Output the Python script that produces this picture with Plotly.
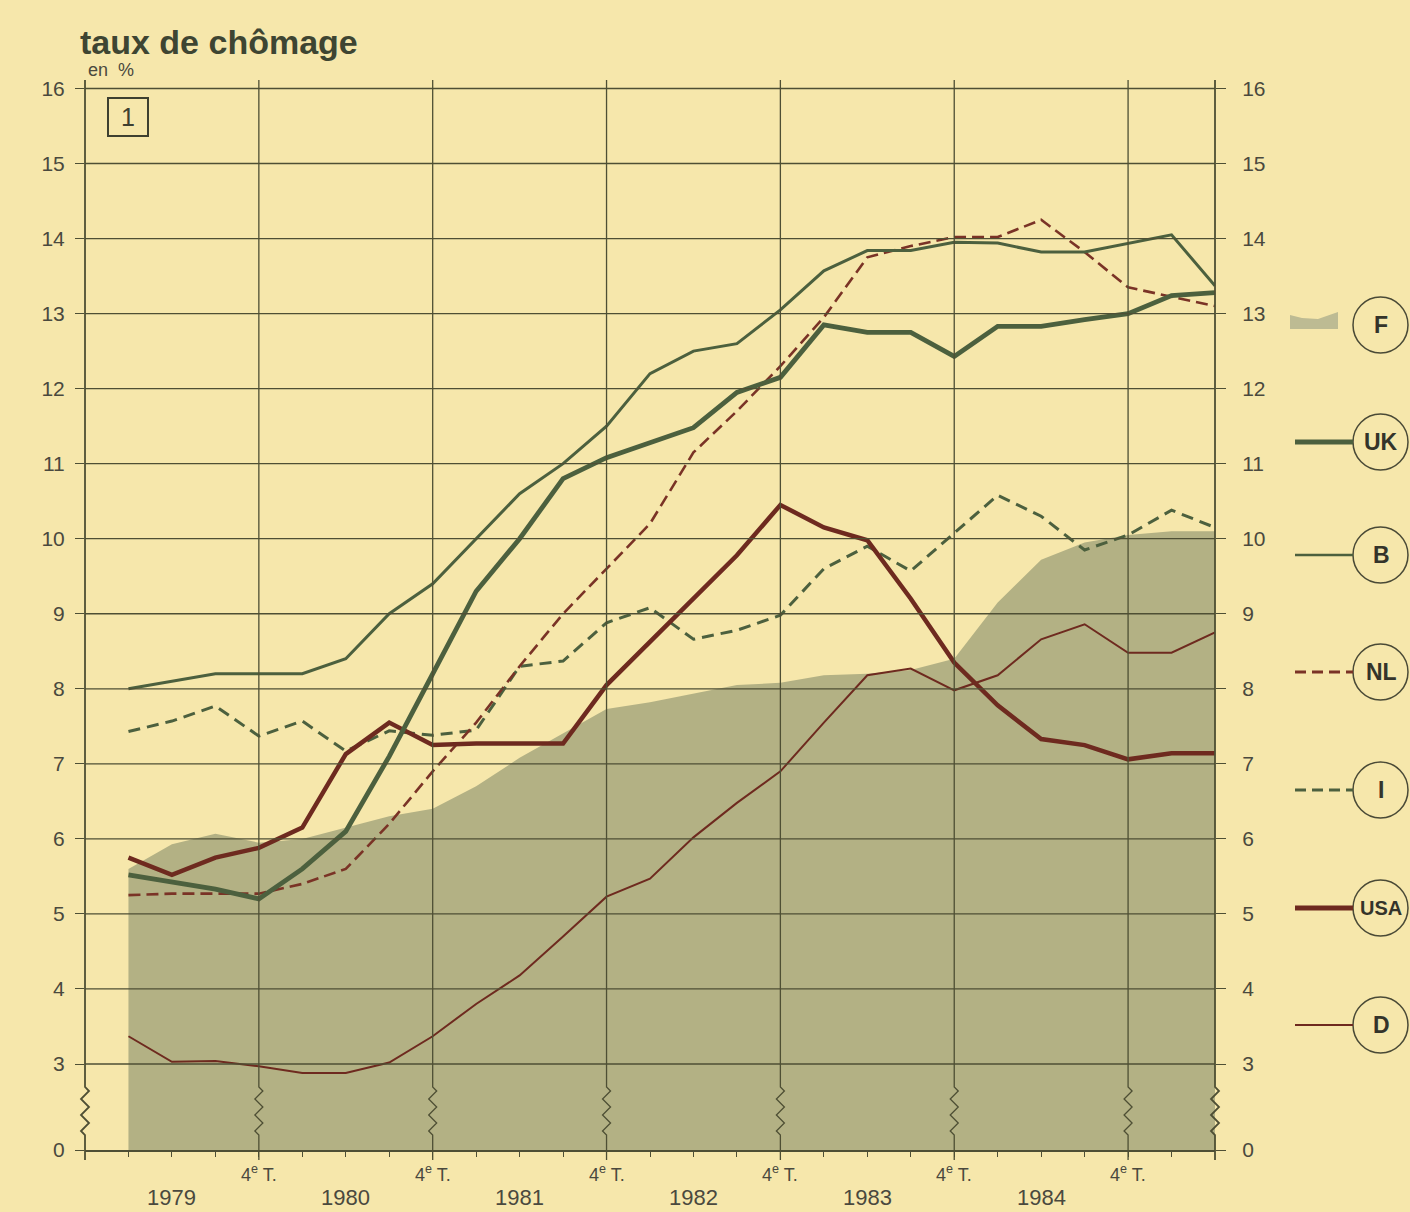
import plotly.graph_objects as go

# ---------------- data (quarterly, 1979 T1 .. 1985 T2) ----------------
quarters = list(range(26))  # 0 = 1979 T1
years = ["1979", "1980", "1981", "1982", "1983", "1984"]
year_pos = [1, 5, 9, 13, 17, 21]
q4_pos = [3, 7, 11, 15, 19, 23]
q4_label = "4<sup>e</sup> T."
y_ticks = [3, 4, 5, 6, 7, 8, 9, 10, 11, 12, 13, 14, 15, 16]

F = [5.6, 5.93, 6.07, 5.95, 6.0, 6.15, 6.3, 6.4, 6.7, 7.08, 7.4, 7.73, 7.82,
     7.93, 8.05, 8.08, 8.18, 8.2, 8.25, 8.4, 9.15, 9.72, 9.95, 10.05, 10.1, 10.1]
UK = [5.52, 5.43, 5.33, 5.2, 5.6, 6.1, 7.1, 8.2, 9.3, 10.0, 10.8, 11.08, 11.28,
      11.48, 11.95, 12.15, 12.85, 12.75, 12.75, 12.43, 12.83, 12.83, 12.92, 13.0, 13.24, 13.28]
B = [8.0, 8.1, 8.2, 8.2, 8.2, 8.4, 9.0, 9.4, 10.0, 10.6, 11.0, 11.5, 12.2,
     12.5, 12.6, 13.05, 13.57, 13.84, 13.84, 13.95, 13.94, 13.82, 13.82, 13.93, 14.05, 13.37]
NL = [5.25, 5.27, 5.27, 5.27, 5.4, 5.6, 6.2, 6.9, 7.55, 8.3, 9.0, 9.6, 10.2,
      11.15, 11.7, 12.3, 12.95, 13.75, 13.9, 14.02, 14.02, 14.25, 13.82, 13.35, 13.22, 13.1]
I = [7.43, 7.57, 7.77, 7.37, 7.57, 7.17, 7.44, 7.38, 7.45, 8.3, 8.37, 8.88, 9.08,
     8.66, 8.78, 8.98, 9.6, 9.9, 9.57, 10.08, 10.58, 10.3, 9.85, 10.05, 10.38, 10.15]
USA = [5.75, 5.52, 5.75, 5.88, 6.15, 7.13, 7.55, 7.25, 7.27, 7.27, 7.27, 8.05, 8.63,
       9.22, 9.78, 10.45, 10.15, 9.98, 9.2, 8.35, 7.78, 7.33, 7.25, 7.06, 7.14, 7.14]
D = [3.37, 3.03, 3.04, 2.97, 2.88, 2.88, 3.02, 3.37, 3.8, 4.18, 4.7, 5.23, 5.47,
     6.02, 6.48, 6.9, 7.55, 8.18, 8.27, 7.98, 8.18, 8.66, 8.86, 8.48, 8.48, 8.75]

# ---------------- geometry / style ----------------
W, H = 1410, 1212
PL, PR, PT, PB = 85, 1215, 80, 1150
Y3, UNIT = 1064.0, 75.04
ZERO = 3 - (PB - Y3) / UNIT          # axis position where "0" is drawn (broken axis)
YTOP = 3 + (Y3 - PT) / UNIT

BG = "#F6E7AB"
FILL = "#B3B184"
GREEN = "#4C603E"
BROWN = "#6E2A1F"
GRID = "#4E4F34"
TXT = "#4A493E"
FONT = "Liberation Sans, Arial, sans-serif"
NARROW = "Liberation Sans Narrow, Liberation Sans, Arial, sans-serif"


def px(x):
    return (x - PL) / (PR - PL)


def py(y):
    return (PB - y) / (PB - PT)


def qx(q):
    return PL + (q + 1) * (PR - PL) / 26.0


fig = go.Figure()
fig.add_trace(go.Scatter(x=quarters, y=F, mode="lines", line=dict(width=0, color=FILL),
                         fill="tozeroy", fillcolor=FILL, name="F"))
fig.add_trace(go.Scatter(x=quarters, y=D, mode="lines", line=dict(width=2, color=BROWN), name="D"))
fig.add_trace(go.Scatter(x=quarters, y=I, mode="lines", line=dict(width=3, color=GREEN, dash="12px,7px"), name="I"))
fig.add_trace(go.Scatter(x=quarters, y=NL, mode="lines", line=dict(width=2.6, color="#7A3326", dash="12px,6px"), name="NL"))
fig.add_trace(go.Scatter(x=quarters, y=B, mode="lines", line=dict(width=3, color=GREEN), name="B"))
fig.add_trace(go.Scatter(x=quarters, y=USA, mode="lines", line=dict(width=4.5, color=BROWN), name="USA"))
fig.add_trace(go.Scatter(x=quarters, y=UK, mode="lines", line=dict(width=4.8, color=GREEN), name="UK"))

shapes = []
# horizontal grid lines (over the F area)
for v in y_ticks:
    shapes.append(dict(type="line", xref="paper", yref="y", x0=0, x1=1, y0=v, y1=v,
                       line=dict(color=GRID, width=1.3), layer="above"))
# vertical lines with zig-zag axis breaks
for q in [-1] + q4_pos + [25]:
    x = qx(q)
    pts = [(x, PT), (x, 1087), (x + 4, 1091), (x - 4, 1099), (x + 4, 1107), (x - 4, 1115),
           (x + 4, 1123), (x - 4, 1131), (x, 1135), (x, 1160)]
    path = "M " + " L ".join(f"{px(a):.5f},{py(b):.5f}" for a, b in pts)
    wid = 1.8 if q in (-1, 25) else 1.3
    shapes.append(dict(type="path", xref="paper", yref="paper", path=path,
                       line=dict(color=GRID, width=wid), layer="above"))
# box "1"
shapes.append(dict(type="rect", xref="paper", yref="paper", x0=px(108), x1=px(148),
                   y0=py(136), y1=py(98), line=dict(color="#3E4030", width=2)))

# legend on the right
leg = [("F", 325), ("UK", 442), ("B", 555), ("NL", 672), ("I", 790), ("USA", 908), ("D", 1025)]
leg_style = {
    "UK": dict(color=GREEN, width=5),
    "B": dict(color=GREEN, width=2.5),
    "NL": dict(color="#7A3326", width=3, dash="11px,6px"),
    "I": dict(color=GREEN, width=3, dash="11px,6px"),
    "USA": dict(color=BROWN, width=5),
    "D": dict(color=BROWN, width=2),
}
annotations = []
for name, yc in leg:
    shapes.append(dict(type="circle", xref="paper", yref="paper",
                       x0=px(1353), x1=px(1408), y0=py(yc + 28), y1=py(yc - 28),
                       line=dict(color="#4A4A36", width=1.5), fillcolor=BG))
    if name == "F":
        pts = [(1290, 315), (1302, 318), (1318, 319), (1338, 312), (1338, 329), (1290, 329)]
        path = "M " + " L ".join(f"{px(a):.5f},{py(b):.5f}" for a, b in pts) + " Z"
        shapes.append(dict(type="path", xref="paper", yref="paper", path=path,
                           fillcolor="#BDBB93", line=dict(width=0)))
    else:
        shapes.append(dict(type="line", xref="paper", yref="paper", x0=px(1295), x1=px(1353),
                           y0=py(yc), y1=py(yc), line=leg_style[name]))
    size = 20 if name == "USA" else 23
    annotations.append(dict(xref="paper", yref="paper", x=px(1381), y=py(yc), text=f"<b>{name}</b>",
                            showarrow=False, xanchor="center", yanchor="middle",
                            font=dict(family=NARROW, size=size, color="#34342A")))

# title texts
annotations.append(dict(xref="paper", yref="paper", x=px(78), y=py(42), text="<b>taux de chômage</b>",
                        showarrow=False, xanchor="left", yanchor="middle",
                        font=dict(family=FONT, size=34, color="#3E4532")))
annotations.append(dict(xref="paper", yref="paper", x=px(86), y=py(70), text="en  %",
                        showarrow=False, xanchor="left", yanchor="middle",
                        font=dict(family=FONT, size=18, color=TXT)))
annotations.append(dict(xref="paper", yref="paper", x=px(128), y=py(117), text="1",
                        showarrow=False, xanchor="center", yanchor="middle",
                        font=dict(family=FONT, size=25, color="#3E4030")))
# x-axis labels
for q in q4_pos:
    annotations.append(dict(xref="x", yref="paper", x=q, y=py(1173), text=q4_label,
                            showarrow=False, xanchor="center", yanchor="middle",
                            font=dict(family=NARROW, size=18, color=TXT)))
for q, yr in zip(year_pos, years):
    annotations.append(dict(xref="x", yref="paper", x=q, y=py(1197), text=yr,
                            showarrow=False, xanchor="center", yanchor="middle",
                            font=dict(family=FONT, size=22, color=TXT)))

ytv = [ZERO] + y_ticks
ytt = ["0"] + [str(v) for v in y_ticks]

fig.update_layout(
    width=W, height=H,
    margin=dict(l=PL, r=W - PR, t=PT, b=H - PB),
    paper_bgcolor=BG, plot_bgcolor=BG,
    showlegend=False,
    shapes=shapes, annotations=annotations,
    xaxis=dict(range=[-1, 25], showgrid=False, zeroline=False, showline=True,
               linecolor=GRID, linewidth=2, tickvals=quarters[:-1], ticks="outside",
               ticklen=5, tickwidth=1.3, tickcolor=GRID, showticklabels=False),
    yaxis=dict(range=[ZERO, YTOP], showgrid=False, zeroline=False, showline=False,
               tickvals=ytv, ticktext=ytt, ticks="outside", ticklen=9, tickwidth=1.3,
               tickcolor=GRID, ticklabelstandoff=6,
               tickfont=dict(family=FONT, size=21, color=TXT)),
    yaxis2=dict(range=[ZERO, YTOP], overlaying="y", side="right", showgrid=False,
                zeroline=False, showline=False, tickvals=ytv, ticktext=ytt,
                ticks="outside", ticklen=10, tickwidth=1.3, tickcolor=GRID,
                ticklabelstandoff=12, tickfont=dict(family=FONT, size=21, color=TXT)),
)
# invisible trace to activate the right axis
fig.add_trace(go.Scatter(x=[quarters[0]], y=[F[0]], yaxis="y2", mode="markers",
                         marker=dict(opacity=0), hoverinfo="skip", showlegend=False))

fig.write_html("out.html", config={"displayModeBar": False},
               post_script="document.body.style.margin='0';")
